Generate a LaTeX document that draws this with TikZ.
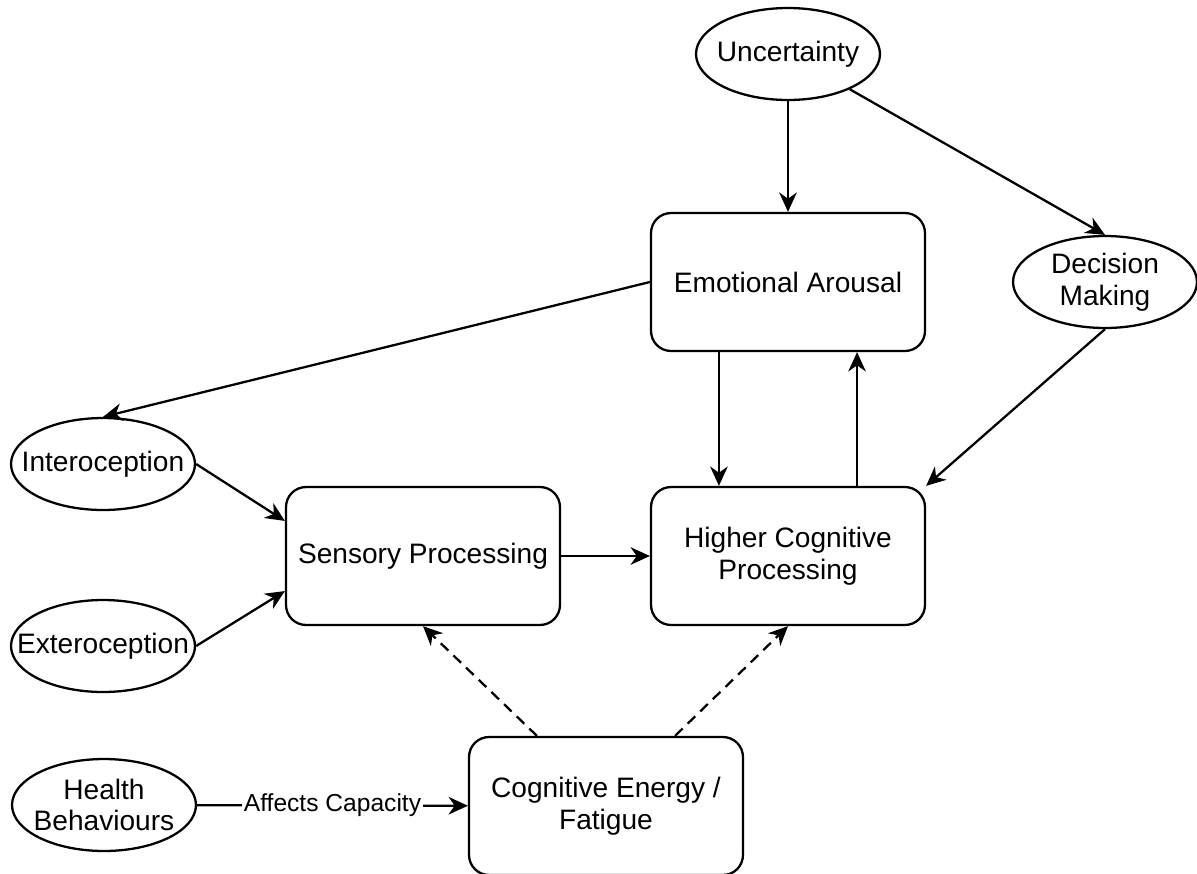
\documentclass[tikz,border=0pt]{standalone}
\usepackage{fontspec}
\setmainfont{Liberation Sans}
\usetikzlibrary{shapes.geometric,arrows.meta,calc}

\tikzset{
  box/.style={draw, rounded corners=0.4cm, minimum width=5.48cm, minimum height=2.76cm, align=center},
  oval/.style={draw, ellipse, minimum width=3.68cm, minimum height=1.84cm, inner sep=0pt},
  every label/.append style={align=center},
  link/.style={-{Stealth[length=11pt,width=10pt,inset=3.5pt]}},
  weak/.style={link, dash pattern=on 6pt off 4pt}
}

\begin{document}
\begin{tikzpicture}[x=0.02cm, y=-0.02cm, line width=1.3pt, font=\fontsize{16}{18}\selectfont]
	\useasboundingbox (0,0) rectangle (1197,873);

	% boxes
	\node [box] (emo) at (788,282)  {Emotional Arousal};
	\node [box] (sens) at (423,556)  {Sensory Processing};
	\node [box] (high) at (788,556)  {Higher Cognitive\\Processing};
	\node [box] (energy) at (606,806)  {Cognitive Energy /\\Fatigue};

	% ellipses
	\node [oval, label=center:Uncertainty] (unc) at (788,54)  {};
	\node [oval, label=center:{Decision\\Making}] (dec) at (1105,282)  {};
	\node [oval, label=center:Interoception] (intero) at (103,464)  {};
	\node [oval, label=center:Exteroception] (extero) at (103,646)  {};
	\node [oval, label=center:{Health\\Behaviours}] (health) at (104,805)  {};

	\draw [link] (unc) -- (emo);
	\draw [link] (unc) -- (dec.north);
	\draw [link] (emo.west) -- (intero.north);
	\draw [link] ($(emo.south west)!.25!(emo.south east)$) -- ($(high.north west)!.25!(high.north east)$);
	\draw [link] ($(high.north west)!.75!(high.north east)$) -- ($(emo.south west)!.75!(emo.south east)$);
	\draw [link] (dec.south) -- (high.north east);
	\draw [link] (intero.east) -- ($(sens.north west)!.25!(sens.south west)$);
	\draw [link] (extero.east) -- ($(sens.north west)!.75!(sens.south west)$);
	\draw [link] (sens) -- (high);
	\draw [weak] ($(energy.north west)!.25!(energy.north east)$) -- (sens.south);
	\draw [weak] ($(energy.north west)!.75!(energy.north east)$) -- (high.south);
	\draw [link] (health) -- (energy) node [midway, fill=white, inner sep=1pt, font=\fontsize{14}{16}\selectfont] (cap) {Affects Capacity};
\end{tikzpicture}
\end{document}
